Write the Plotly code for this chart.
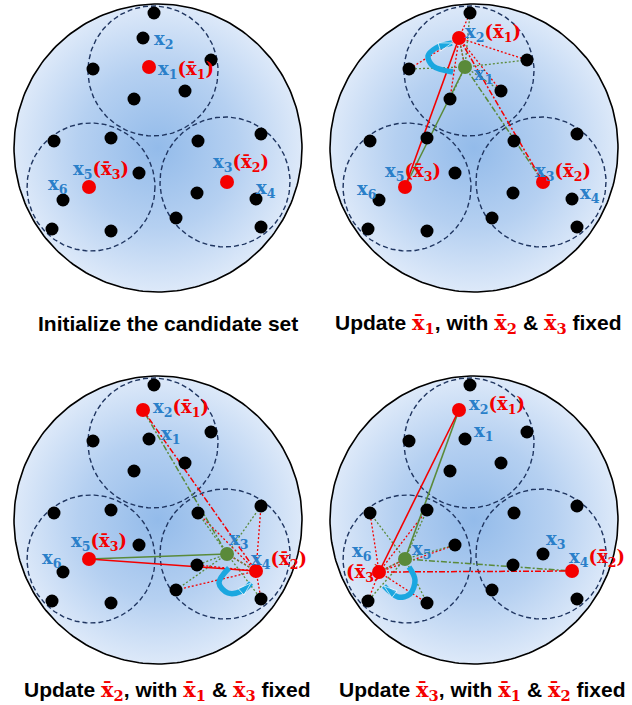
import numpy as np
import plotly.graph_objects as go

# ---------------- data (panel-local pixel-like units, y downward) ----------------
# named points x1..x6
NAMED_X = [149, 143, 227, 256, 89, 63]
NAMED_Y = [67, 38, 182, 199, 187, 200]
# unnamed points, grouped by cluster A (top), B (bottom-left), C (bottom-right)
A_X = [154, 211, 93, 185, 134]
A_Y = [13, 60, 69, 91, 99]
B_X = [54, 111, 139, 52, 111]
B_Y = [141, 138, 173, 229, 231]
C_X = [198, 261, 197, 176, 261]
C_Y = [141, 134, 193, 218, 227]
CLUSTER_NAMED = {"A": [1, 2], "B": [5, 6], "C": [3, 4]}

BIG_CX, BIG_CY, BIG_R = 158, 148, 144
SUB_CX = [153, 91, 225]
SUB_CY = [71, 187, 182]
SUB_R = [65, 64, 65]

# panel configuration: red candidates, green (previous) point, updated cluster,
# new candidate, fixed candidates joined by solid / dash-dot lines
PANELS = [
    dict(red=[1, 3, 5], green=None),
    dict(red=[2, 3, 5], green=1, cluster="A", new=2, solid=5, dashdot=3),
    dict(red=[2, 4, 5], green=3, cluster="C", new=4, solid=5, dashdot=2),
    dict(red=[2, 4, 6], green=5, cluster="B", new=6, solid=2, dashdot=4),
]

TITLES = [
    "Initialize the candidate set",
    ("Update ", 1, ", with ", 2, " & ", 3, " fixed"),
    ("Update ", 2, ", with ", 1, " & ", 3, " fixed"),
    ("Update ", 3, ", with ", 1, " & ", 2, " fixed"),
]

# labels: (point index, candidate index or None, left x, center y)
LABELS = [
    [(2, None, 153, 40), (1, 1, 157, 70), (5, 3, 72, 170), (6, None, 47, 185),
     (3, 2, 212, 163), (4, None, 255, 189)],
    [(2, 1, 148, 33), (1, None, 157, 75), (5, 3, 68, 172), (6, None, 40, 190),
     (3, 2, 218, 172), (4, None, 263, 194)],
    [(2, 1, 152, 36), (1, None, 160, 63), (5, 3, 70, 170), (6, None, 41, 187),
     (3, None, 228, 168), (4, 2, 250, 188)],
    [(2, 1, 152, 33), (1, None, 157, 60), (6, None, 35, 180), (None, 3, 29, 201),
     (5, None, 95, 178), (3, None, 229, 168), (4, 2, 252, 186)],
]

# rotating arrows (decoration paths)
ARROW_X = [None, [137, 117, 112, 120, 136], [229, 219, 228, 242, 251], [93, 99, 94, 82, 68]]
ARROW_Y = [None, [72, 66, 56, 48, 43], [196, 211, 221, 219, 211], [195, 208, 222, 225, 214]]

# ---------------- styles ----------------
RED = "#f40000"
GREEN = "#5a8a3a"
BLUE = "#2a7fc9"
NAVY = "#1f3560"
CYAN = "#1aa7e0"
SERIF = "DejaVu Serif"
SANS = "Liberation Sans"

W, H = 632, 705
PW, PH = 316, 330
tops = [0, 0, 372, 372]
lefts = [0, 316, 0, 316]

fig = go.Figure()
layout = dict(width=W, height=H, margin=dict(l=0, r=0, t=0, b=0),
              paper_bgcolor="white", plot_bgcolor="rgba(0,0,0,0)", showlegend=False)

theta = np.linspace(0, 2 * np.pi, 241)
others = {"A": list(zip(A_X, A_Y)), "B": list(zip(B_X, B_Y)), "C": list(zip(C_X, C_Y))}


def named(i):
    return NAMED_X[i - 1], NAMED_Y[i - 1]


annotations = []
for p, cfg in enumerate(PANELS):
    k = "" if p == 0 else str(p + 1)
    xa, ya = "x" + k, "y" + k
    layout["xaxis" + k] = dict(domain=[lefts[p] / W, (lefts[p] + PW) / W], range=[0, PW],
                               visible=False, fixedrange=True, anchor=ya)
    layout["yaxis" + k] = dict(domain=[1 - (tops[p] + PH) / H, 1 - tops[p] / H], range=[PH, 0],
                               visible=False, fixedrange=True, anchor=xa)

    # big circle with radial gradient
    fig.add_trace(go.Scatter(
        x=BIG_CX + BIG_R * np.cos(theta), y=BIG_CY + BIG_R * np.sin(theta),
        mode="lines", fill="toself",
        fillgradient=dict(type="radial", colorscale=[[0, "#93bbea"], [0.55, "#b5d0f1"], [1, "#dde9f9"]]),
        line=dict(color="black", width=1.6), xaxis=xa, yaxis=ya, hoverinfo="skip"))
    # dashed cluster circles
    for cx, cy, r in zip(SUB_CX, SUB_CY, SUB_R):
        fig.add_trace(go.Scatter(
            x=cx + r * np.cos(theta), y=cy + r * np.sin(theta), mode="lines",
            line=dict(color=NAVY, width=1.4, dash="5px,3px"), xaxis=xa, yaxis=ya, hoverinfo="skip"))

    if cfg["green"] is not None:
        new, g = cfg["new"], cfg["green"]
        cl = cfg["cluster"]
        members = list(others[cl]) + [named(i) for i in CLUSTER_NAMED[cl]]
        for src, col in ((new, RED), (g, GREEN)):
            sx, sy = named(src)
            xs, ys = [], []
            for (mx, my) in members:
                if (mx, my) == (sx, sy):
                    continue
                xs += [sx, mx, None]
                ys += [sy, my, None]
            fig.add_trace(go.Scatter(x=xs, y=ys, mode="lines",
                                     line=dict(color=col, width=1.3, dash="2px,2px"),
                                     xaxis=xa, yaxis=ya, hoverinfo="skip"))
        for src, col in ((g, GREEN), (new, RED)):
            sx, sy = named(src)
            fx, fy = named(cfg["dashdot"])
            fig.add_trace(go.Scatter(x=[sx, fx], y=[sy, fy], mode="lines",
                                     line=dict(color=col, width=1.5, dash="6px,2px,2px,2px"),
                                     xaxis=xa, yaxis=ya, hoverinfo="skip"))
            fx, fy = named(cfg["solid"])
            fig.add_trace(go.Scatter(x=[sx, fx], y=[sy, fy], mode="lines",
                                     line=dict(color=col, width=1.6),
                                     xaxis=xa, yaxis=ya, hoverinfo="skip"))

    # black points
    bx = A_X + B_X + C_X
    by = A_Y + B_Y + C_Y
    for i in range(1, 7):
        if i not in cfg["red"] and i != cfg["green"]:
            bx.append(NAMED_X[i - 1])
            by.append(NAMED_Y[i - 1])
    fig.add_trace(go.Scatter(x=bx, y=by, mode="markers",
                             marker=dict(color="black", size=13, line=dict(width=0)),
                             xaxis=xa, yaxis=ya, hoverinfo="skip"))
    fig.add_trace(go.Scatter(x=[NAMED_X[i - 1] for i in cfg["red"]],
                             y=[NAMED_Y[i - 1] for i in cfg["red"]], mode="markers",
                             marker=dict(color=RED, size=14, line=dict(width=0)),
                             xaxis=xa, yaxis=ya, hoverinfo="skip"))
    if cfg["green"] is not None:
        gx, gy = named(cfg["green"])
        fig.add_trace(go.Scatter(x=[gx], y=[gy], mode="markers",
                                 marker=dict(color=GREEN, size=14, line=dict(width=0)),
                                 xaxis=xa, yaxis=ya, hoverinfo="skip"))
        axs, ays = ARROW_X[p], ARROW_Y[p]
        fig.add_trace(go.Scatter(x=axs, y=ays, mode="lines+markers",
                                 line=dict(color=CYAN, width=5.5, shape="spline"),
                                 marker=dict(symbol=["circle"] * (len(axs) - 1) + ["arrow"],
                                             size=[0] * (len(axs) - 1) + [14], color=CYAN,
                                             angleref="previous"),
                                 xaxis=xa, yaxis=ya, hoverinfo="skip"))

    # point labels
    for (pi, ci, lx, ly) in LABELS[p]:
        txt = ""
        if pi is not None:
            txt += f'<span style="color:{BLUE}">x<sub>{pi}</sub></span>'
        if ci is not None:
            txt += f'<span style="color:{RED}">(x\u0304<sub>{ci}</sub>)</span>'
        annotations.append(dict(x=lx, y=ly, xref=xa, yref=ya, text=f"<b>{txt}</b>",
                                showarrow=False, xanchor="left", yanchor="middle",
                                font=dict(family=SERIF, size=18), borderpad=0))

# titles
TITLE_X = [168, 478, 167, 482]
TITLE_Y = [323, 323, 690, 690]
for p, t in enumerate(TITLES):
    if isinstance(t, str):
        txt = t
    else:
        parts = []
        for el in t:
            if isinstance(el, int):
                parts.append(f'<span style="color:{RED};font-family:{SERIF}">x\u0304<sub>{el}</sub></span>')
            else:
                parts.append(el.replace("&", "&amp;"))
        txt = "".join(parts)
    annotations.append(dict(x=TITLE_X[p] / W, y=1 - TITLE_Y[p] / H, xref="paper", yref="paper",
                            text=f"<b>{txt}</b>", showarrow=False, xanchor="center", yanchor="middle",
                            font=dict(family=SANS, size=21, color="black")))

layout["annotations"] = annotations
fig.update_layout(**layout)
fig.write_html("out.html", config={"displayModeBar": False},
               post_script="document.body.style.margin='0';document.body.style.padding='0';")
